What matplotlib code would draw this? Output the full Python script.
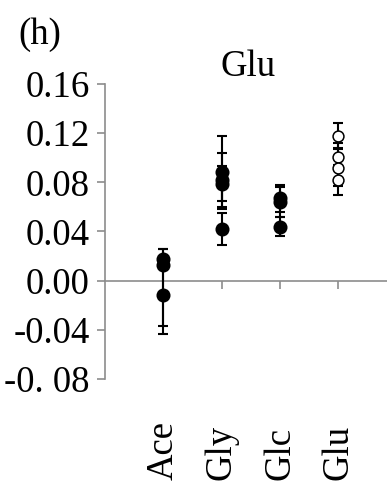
import matplotlib.pyplot as plt
import matplotlib.transforms as mtransforms
import numpy as np

plt.rcParams['font.family'] = ['Liberation Serif', 'DejaVu Serif']

# ----------- datos -----------
categorias = ['Ace', 'Gly', 'Glc', 'Glu']

ace_media = [0.018, 0.013, -0.012]
ace_err_bajo = [0.008, 0.056, 0.025]
ace_err_alto = [0.008, 0.013, 0.025]

gly_media = [0.088, 0.082, 0.079, 0.042]
gly_err = [0.030, 0.022, 0.014, 0.013]

glc_media = [0.067, 0.064, 0.044]
glc_err = [0.011, 0.012, 0.008]

glu_media = [0.118, 0.101, 0.092, 0.082]
glu_err = [0.010, 0.011, 0.015, 0.012]

y_ticks = [0.16, 0.12, 0.08, 0.04, 0.00, -0.04, -0.08]
y_etiquetas = ['0.16', '0.12', '0.08', '0.04', '0.00', '-0.04', '-0. 08']

FS = 26.5
GRIS = '#8c8c8c'

fig = plt.figure(figsize=(3.87, 4.82), dpi=100)
ax = fig.add_axes([105 / 387, 1 - 379 / 482, 282 / 387, 295 / 482])


def dibujar(pos, medias, err, relleno):
    x = np.full(len(medias), pos, dtype=float)
    ax.errorbar(x, medias, yerr=err, fmt='none', ecolor='black',
                elinewidth=1.5, capsize=3.6, capthick=1.5, zorder=3)
    ax.plot(x, medias, 'o', ms=9 if relleno else 7.8,
            mfc='black' if relleno else 'white', mec='black', mew=1.1,
            zorder=4)


dibujar(1, ace_media, [ace_err_bajo, ace_err_alto], True)
dibujar(2, gly_media, gly_err, True)
dibujar(3, glc_media, glc_err, True)
dibujar(4, glu_media, glu_err, False)

ax.set_xlim(0, 282 / 58.33)
ax.set_ylim(-0.08, 0.16)

# eje vertical y linea del cero en gris
for lado in ['top', 'right']:
    ax.spines[lado].set_visible(False)
ax.spines['left'].set_color(GRIS)
ax.spines['bottom'].set_color(GRIS)
ax.spines['bottom'].set_position(('data', 0))
ax.spines['left'].set_linewidth(1.2)
ax.spines['bottom'].set_linewidth(1.2)

ax.set_yticks(y_ticks)
ax.set_yticklabels(y_etiquetas, fontsize=FS)
ax.set_xticks(range(1, len(categorias) + 1))
ax.set_xticklabels([])
ax.tick_params(axis='both', direction='out', length=6, width=1.2,
               color=GRIS, pad=5)

# etiquetas de categorias abajo del todo, giradas
trans = mtransforms.blended_transform_factory(ax.transData, fig.transFigure)
for i, cat in enumerate(categorias):
    ax.text(i + 1, 2 / 482, cat, rotation=90, ha='center', va='bottom',
            fontsize=FS, transform=trans, clip_on=False)

fig.text(248 / 387, 1 - 76 / 482, 'Glu', ha='center', va='baseline', fontsize=FS)
fig.text(18 / 387, 1 - 44 / 482, '(h)', ha='left', va='baseline', fontsize=FS)

fig.savefig('out.png', dpi=100)
